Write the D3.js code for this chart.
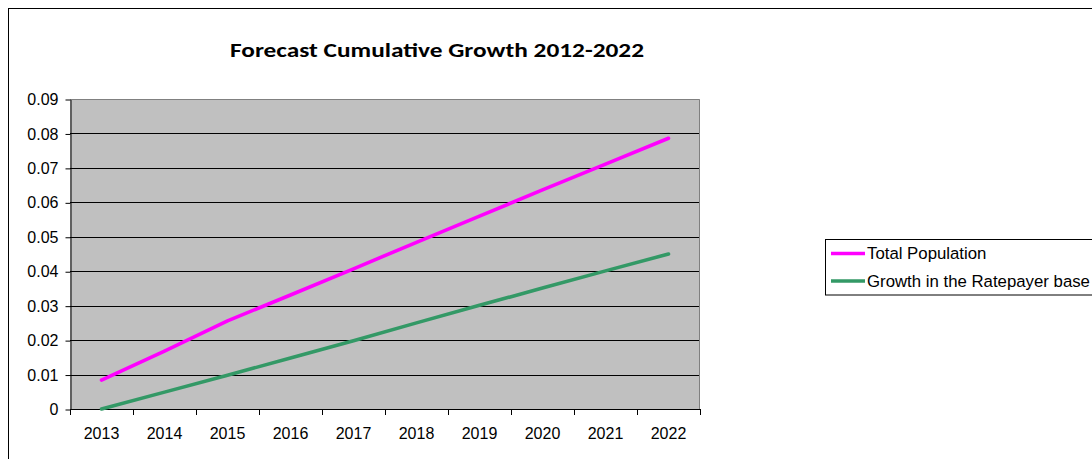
<!DOCTYPE html>
<html><head><meta charset="utf-8">
<script src="https://cdn.jsdelivr.net/npm/d3@7"></script>
<style>html,body{margin:0;padding:0;background:#fff;}svg{display:block;}</style>
</head><body>
<svg id="c" width="1092" height="459"></svg>
<script>
const years = ["2013","2014","2015","2016","2017","2018","2019","2020","2021","2022"];
const totalPopulation = [0.0084,0.0168,0.0256,0.0331,0.0407,0.0484,0.0560,0.0636,0.0711,0.0786];
const ratepayerGrowth = [0.0000,0.0049,0.0098,0.0148,0.0198,0.0250,0.0301,0.0351,0.0401,0.0450];
const yTicks = [0,0.01,0.02,0.03,0.04,0.05,0.06,0.07,0.08,0.09];
const seriesNames = ["Total Population","Growth in the Ratepayer base"];
const seriesColors = ["#FF00FF","#339966"];
const title = "Forecast Cumulative Growth 2012-2022";

const FONT = "Liberation Sans, Arial, sans-serif";
const FS = "16px";
const svg = d3.select("#c");
const L=70, R=700, T=99, B=409;
// outer chart border
svg.append("rect").attr("x",8.5).attr("y",8.5).attr("width",1100).attr("height",470)
  .attr("fill","#fff").attr("stroke","#000").attr("stroke-width",1);

const x = d3.scaleBand().domain(years).range([L,R]).padding(0);
const y = d3.scaleLinear().domain([0,0.09]).range([B,T]);

svg.append("rect").attr("x",L).attr("y",T).attr("width",R-L).attr("height",B-T).attr("fill","#C0C0C0");
// gridlines
svg.append("g").selectAll("line").data(yTicks.slice(1,-1)).join("line")
  .attr("x1",L).attr("x2",R).attr("y1",d=>Math.round(y(d))+0.5).attr("y2",d=>Math.round(y(d))+0.5)
  .attr("stroke","#000").attr("stroke-width",1);
// plot border (top/right gray)
svg.append("path").attr("d",`M${L},${T+0.5}H${R-0.5}V${B}`).attr("fill","none").attr("stroke","#808080");

// y axis
const ya = svg.append("g").attr("transform",`translate(${L+0.5},0.5)`)
  .call(d3.axisLeft(y).tickValues(yTicks).tickFormat(d=>d===0?"0":d.toFixed(2)).tickSize(5).tickSizeOuter(0));
ya.selectAll("path").attr("stroke","#000");
ya.selectAll("line").attr("stroke","#000");
ya.selectAll("text").attr("font-family",FONT).attr("font-size",FS).attr("fill","#000").attr("x",-12);

// x axis
const xa = svg.append("g").attr("transform",`translate(0,${B+0.5})`)
  .call(d3.axisBottom(x).tickSize(0).tickSizeOuter(0));
xa.select(".domain").attr("stroke","#000").attr("d",`M${L},0H${R}`);
xa.selectAll("text").attr("font-family",FONT).attr("font-size",FS).attr("fill","#000").attr("dy","0").attr("y",29);
// boundary ticks
const bounds = years.map(d=>x(d)).concat([R]);
svg.append("g").selectAll("line").data(bounds).join("line")
  .attr("x1",d=>Math.round(d)+0.5).attr("x2",d=>Math.round(d)+0.5).attr("y1",B).attr("y2",B+6)
  .attr("stroke","#000");

// lines
const line = d3.line().x((d,i)=>x(years[i])+x.bandwidth()/2).y(d=>y(d));
[totalPopulation, ratepayerGrowth].forEach((s,k)=>{
  svg.append("path").datum(s).attr("d",line).attr("fill","none")
    .attr("stroke",seriesColors[k]).attr("stroke-width",3.6).attr("stroke-linecap","round").attr("stroke-linejoin","round");
});

// title
svg.append("text").attr("x",437).attr("y",57).attr("text-anchor","middle")
  .attr("font-family","Carlito, Lato, Open Sans, sans-serif").attr("font-weight","bold").attr("font-size","21px")
  .attr("textLength",414).attr("lengthAdjust","spacingAndGlyphs").text(title);

// legend
svg.append("rect").attr("x",825.5).attr("y",239.5).attr("width",300).attr("height",55.5)
  .attr("fill","#fff").attr("stroke","#000");
seriesNames.forEach((n,k)=>{
  const yy = 253.5 + k*27.5;
  svg.append("line").attr("x1",831).attr("x2",865).attr("y1",yy).attr("y2",yy)
    .attr("stroke",seriesColors[k]).attr("stroke-width",3.6);
  svg.append("text").attr("x",867).attr("y",yy+5.5).attr("font-family",FONT)
    .attr("font-size","16.8px").attr("fill","#000").text(n);
});
</script>
</body></html>
